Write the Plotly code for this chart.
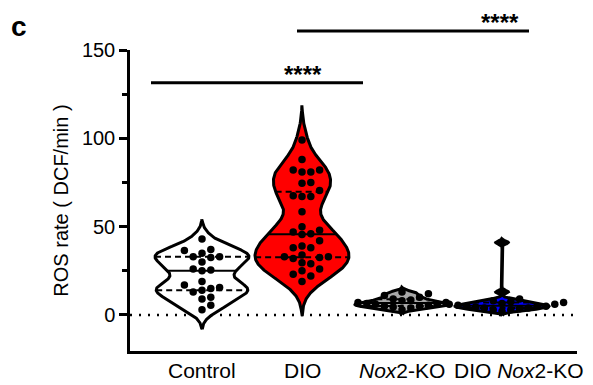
import numpy as np
import plotly.graph_objects as go

# ---------------- data ----------------
categories = ["Control", "DIO", "Nox2-KO", "DIO Nox2-KO"]
category_labels = ["Control", "DIO", "<i>Nox</i>2-KO", "DIO <i>Nox</i>2-KO"]

control = [43, 37, 36.5, 35, 33, 33, 32.5, 30, 26, 25.5, 25, 19, 17, 15.5,
           15, 14, 13, 10, 9, 5.5, 3]
dio = [99, 88, 82, 82, 81, 81, 75, 74.5, 70.5, 67.5, 67, 67, 58.5, 50, 48,
       47, 46, 45.5, 42, 39, 38, 38, 34, 33, 33, 32.5, 32, 29.5, 29, 26, 25,
       23, 22, 19]
nox2_ko = [3, 4, 4.5, 5, 5, 5.5, 6, 6, 6.5, 7, 7, 8, 8.5, 9, 10, 11, 12, 13]
dio_nox2_ko = [2, 3, 3, 3.5, 4, 4, 4.5, 5, 5, 5, 5.5, 6, 6, 6.5, 7, 7.5, 8,
               9, 13, 41]

groups = [control, dio, nox2_ko, dio_nox2_ko]
fill_colors = ["#ffffff", "#ff0000", "#a8a8a8", "#0000ff"]

y_ticks = [0, 50, 100, 150]
y_minor = [25, 75, 125]

# significance brackets: (x start, x end, y level, star x)
sig_x0 = [-0.51, 0.95]
sig_x1 = [1.61, 3.27]
sig_y = [131.5, 160.7]
sig_star_x = [1.01, 2.98]
sig_text = ["****", "****"]

# ---------------- layout geometry ----------------
# the page body adds an 8px margin, so the figure is drawn 8px smaller
W, H = 585, 377
ml, mr, mt, mb = 122, 16, 42, 34
xr = [-0.72, 3.75]
yr = [-20.4, 150]
px_x = (W - ml - mr) / (xr[1] - xr[0])
px_y = (H - mt - mb) / (yr[1] - yr[0])
HALF_W = 0.47
BW_FACTOR = 0.75

FONT = "Arial, Liberation Sans, sans-serif"


def kde(vals, grid, bw):
    v = np.asarray(vals, float)[:, None]
    z = (grid[None, :] - v) / bw
    return np.exp(-0.5 * z ** 2).sum(0) / (len(vals) * bw * np.sqrt(2 * np.pi))


def silverman(vals):
    v = np.asarray(vals, float)
    q1, q3 = np.percentile(v, [25, 75])
    s = min(v.std(ddof=1), (q3 - q1) / 1.34)
    return 0.9 * s * len(v) ** -0.2


def swarm(vals, dot=8.8, sep=0.85):
    v = np.asarray(vals, float)
    order = np.argsort(v)
    placed = []
    offs = np.zeros(len(v))
    cands = [0.0]
    for j in range(1, 40):
        cands += [j * dot, -j * dot]
    for i in order:
        yp = v[i] * px_y
        for c in cands:
            if all((c - px) ** 2 + (yp - py) ** 2 >= (dot * sep) ** 2 for px, py in placed):
                placed.append((c, yp))
                offs[i] = c / px_x
                break
    return offs


fig = go.Figure()

# zero reference line
fig.add_shape(type="line", xref="paper", yref="y", x0=0, x1=1, y0=0, y1=0,
              line=dict(color="black", width=2.5, dash="2px,7px"), layer="below")

for i, vals in enumerate(groups):
    bw = silverman(vals) * BW_FACTOR
    lo, hi = min(vals) - 2.6 * bw, max(vals) + 2.6 * bw
    grid = np.linspace(lo, hi, 400)
    d = kde(vals, grid, bw)
    dmax = d.max()
    w = d / dmax * HALF_W
    xs = np.concatenate([i + w, (i - w)[::-1], [i + w[0]]])
    ys = np.concatenate([grid, grid[::-1], [grid[0]]])
    fig.add_trace(go.Scatter(x=xs, y=ys, mode="lines", fill="toself",
                             fillcolor=fill_colors[i],
                             line=dict(color="black", width=3),
                             hoverinfo="skip", showlegend=False))
    # quartile lines
    q1, med, q3 = np.percentile(vals, [25, 50, 75])
    for q, dash in [(q1, "6px,4px"), (q3, "6px,4px"), (med, "solid")]:
        hw = kde(vals, np.array([q]), bw)[0] / dmax * HALF_W
        fig.add_trace(go.Scatter(x=[i - hw, i + hw], y=[q, q], mode="lines",
                                 line=dict(color="black", width=2, dash=dash),
                                 hoverinfo="skip", showlegend=False))
    # dots
    offs = swarm(vals)
    fig.add_trace(go.Scatter(x=i + offs, y=vals, mode="markers",
                             marker=dict(color="black", size=7.5),
                             name=categories[i], showlegend=False))

# significance brackets
for x0, x1, yv, sx, t in zip(sig_x0, sig_x1, sig_y, sig_star_x, sig_text):
    yp = (yv - yr[0]) / (yr[1] - yr[0])
    fig.add_shape(type="line", xref="x", yref="paper", x0=x0, x1=x1, y0=yp, y1=yp,
                  line=dict(color="black", width=3))
    fig.add_annotation(x=sx, y=yp, xref="x", yref="paper", text="<b>%s</b>" % t,
                       showarrow=False, yanchor="bottom", yshift=-7,
                       font=dict(family=FONT, size=24, color="black"))

# category labels
for i, lab in enumerate(category_labels):
    fig.add_annotation(x=i, y=0, xref="x", yref="paper", text=lab,
                       showarrow=False, yanchor="top", yshift=-6,
                       xshift=17 if i == 3 else 0,
                       font=dict(family=FONT, size=21, color="black"))

fig.update_layout(
    width=W, height=H,
    margin=dict(l=ml, r=mr, t=mt, b=mb, autoexpand=False),
    paper_bgcolor="white", plot_bgcolor="white",
    font=dict(family=FONT, size=20, color="black"),
    title=dict(text="<b>c</b>", x=3 / W, y=1 - 18 / H, xanchor="left",
               yanchor="middle", font=dict(family=FONT, size=28, color="black"),
               automargin=False),
    xaxis=dict(range=xr, showgrid=False, zeroline=False, showticklabels=False,
               ticks="", showline=True, linecolor="black", linewidth=2.5,
               automargin=False),
    yaxis=dict(range=yr, showgrid=False, zeroline=False, showline=True,
               linecolor="black", linewidth=2.5, ticks="outside", ticklen=8,
               tickwidth=2.5, tickcolor="black", tickmode="array",
               tickvals=y_ticks, tickfont=dict(family=FONT, size=20),
               automargin=False,
               minor=dict(tickmode="array", tickvals=y_minor, ticks="outside",
                          ticklen=5, tickwidth=2.5, tickcolor="black"),
               title=dict(text="ROS rate ( DCF/min )", standoff=8,
                          font=dict(family=FONT, size=20))),
)

fig.write_html("out.html")
